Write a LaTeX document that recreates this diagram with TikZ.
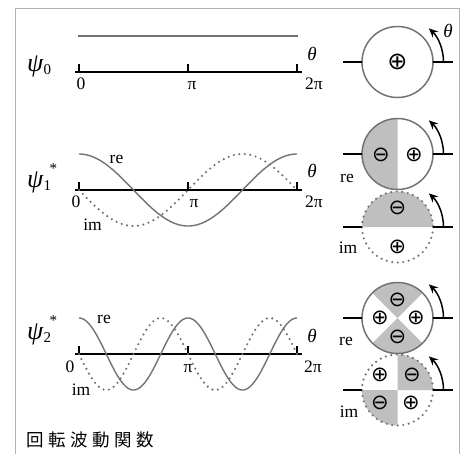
\documentclass[tikz,border=0pt]{standalone}
\usepackage{fontspec}
\setmainfont{Liberation Serif}
\newfontfamily\cjkfont{Noto Sans CJK JP}
\newfontfamily\symfont{DejaVu Sans}
\usetikzlibrary{arrows.meta}
\begin{document}
\begin{tikzpicture}[x=1pt,y=-1pt,
  frameline/.style={draw=black!30, line width=1.5pt},
  axisline/.style={line width=2pt, black},
  tickline/.style={line width=1.8pt, black},
  recurve/.style={draw=black!55, line width=1.4pt},
  imcurve/.style={draw=black!55, line width=2.4pt, line cap=round, dash pattern=on 0pt off 5.5pt},
  ring/.style={draw=black!55, line width=1.5pt},
  dotring/.style={draw=black!55, line width=2.4pt, line cap=round, dash pattern=on 0pt off 5.55pt},
  lobe/.style={fill=black!25},
  stub/.style={line width=1.8pt, black},
  rot/.style={line width=1.5pt, black, -{Stealth[length=9pt,width=8pt]}},
  lbl/.style={font=\fontsize{17.5}{17.5}\selectfont, inner sep=0pt, anchor=base},
  thl/.style={font=\fontsize{19}{19}\selectfont\itshape, inner sep=0pt, anchor=base},
  psil/.style={font=\fontsize{26}{26}\selectfont\itshape, inner sep=0pt, anchor=base west},
  subl/.style={font=\fontsize{15}{15}\selectfont, inner sep=0pt, anchor=base west},
  sym/.style={font=\symfont\fontsize{21}{21}\selectfont, inner sep=0pt},
]
\useasboundingbox (0,0) rectangle (461,453);
% frame
\draw[frameline] (15.5,454) -- (15.5,8.5) -- (459.5,8.5) -- (459.5,454);

% ---------- row 0 ----------
\draw[axisline] (75,72) -- (302,72);
\foreach \t in {79,188,297} \draw[tickline] (\t,72) -- (\t,64);
\draw[recurve] (78,36) -- (298,36);
\node[psil] (p0) at (27,71) {ψ};
\node[subl] (p0b) at ([yshift=-3pt]p0.base east) {0};
\node[lbl] (z0) at (81,89) {0};
\node[lbl] (h0) at (192,89) {π};
\node[lbl] (f0) at (314,89) {2π};
\node[thl] (t0) at (312,60) {θ};
\coordinate (c0) at (397.5,62);
\draw[ring] (c0) circle[radius=35.5];
\draw[stub] (343,62) -- (362,62);
\draw[stub] (433,62) -- (453,62);
\draw[rot] (443.5,62) arc[start angle=0, end angle=-47, radius=46];
\node[thl] (tc0) at (448,37) {θ};
\node[sym, font=\symfont\fontsize{24}{24}\selectfont] (s0) at (c0) {⊕};

% ---------- row 1 ----------
\draw[axisline] (75,190) -- (302,190);
\foreach \t in {79,188,297} \draw[tickline] (\t,190) -- (\t,182);
\draw[recurve] plot[domain=0:360, samples=120] ({79+\x/360*218}, {190-36*cos(\x)});
\draw[imcurve] plot[domain=0:360, samples=200] ({79+\x/360*218}, {190+36*sin(\x)});
\node[psil] (p1) at (27,187) {ψ};
\node[subl] (p1b) at ([yshift=-3pt]p1.base east) {1};
\node[subl] (p1c) at ([xshift=6pt,yshift=14pt]p1.base east) {*};
\node[lbl] (z1) at (76,207) {0};
\node[lbl] (h1) at (194,207) {π};
\node[lbl] (f1) at (314,207) {2π};
\node[thl] (t1) at (312,177) {θ};
\node[lbl] (r1) at (116.5,163) {re};
\node[lbl] (i1) at (92.5,230) {im};
% circle re
\coordinate (c1r) at (397.5,154);
\fill[lobe] (c1r) -- ++(90:35.5) arc[start angle=90, end angle=270, radius=35.5] -- cycle;
\draw[ring] (c1r) circle[radius=35.5];
\draw[stub] (343,154) -- (362,154);
\draw[stub] (433,154) -- (453,154);
\draw[rot] (443.5,154) arc[start angle=0, end angle=-47, radius=46];
\node[sym] (s1a) at (381,154.5) {⊖};
\node[sym] (s1b) at (414,154.5) {⊕};
\node[lbl] (cr1) at (347,182) {re};
% circle im
\coordinate (c1i) at (397.5,227);
\fill[lobe] (c1i) -- ++(180:35.5) arc[start angle=180, end angle=360, radius=35.5] -- cycle;
\draw[dotring] (c1i) circle[radius=35.5];
\draw[stub] (343,227) -- (362,227);
\draw[stub] (433,227) -- (453,227);
\draw[rot] (443.5,227) arc[start angle=0, end angle=-47, radius=46];
\node[sym] (s1c) at (397.5,208) {⊖};
\node[sym] (s1d) at (397.5,247) {⊕};
\node[lbl] (ci1) at (348,253) {im};

% ---------- row 2 ----------
\draw[axisline] (75,354) -- (302,354);
\foreach \t in {79,188,297} \draw[tickline] (\t,354) -- (\t,346);
\draw[recurve] plot[domain=0:360, samples=160] ({79+\x/360*218}, {354-36*cos(2*\x)});
\draw[imcurve] plot[domain=0:360, samples=300] ({79+\x/360*218}, {354+36*sin(2*\x)});
\node[psil] (p2) at (27,339) {ψ};
\node[subl] (p2b) at ([yshift=-3pt]p2.base east) {2};
\node[subl] (p2c) at ([xshift=6pt,yshift=14pt]p2.base east) {*};
\node[lbl] (z2) at (70,372) {0};
\node[lbl] (h2) at (188,372) {π};
\node[lbl] (f2) at (313,372) {2π};
\node[thl] (t2) at (312,342) {θ};
\node[lbl] (r2) at (104,323) {re};
\node[lbl] (i2) at (81,395) {im};
% circle re
\coordinate (c2r) at (397.5,318);
\fill[lobe] (c2r) -- ++(225:35.5) arc[start angle=225, end angle=315, radius=35.5] -- cycle;
\fill[lobe] (c2r) -- ++(45:35.5) arc[start angle=45, end angle=135, radius=35.5] -- cycle;
\draw[ring] (c2r) circle[radius=35.5];
\draw[stub] (343,318) -- (362,318);
\draw[stub] (433,318) -- (453,318);
\draw[rot] (443.5,318) arc[start angle=0, end angle=-47, radius=46];
\node[sym] (s2a) at (397.5,300) {⊖};
\node[sym] (s2b) at (380,318) {⊕};
\node[sym] (s2c) at (416,318) {⊕};
\node[sym] (s2d) at (397.5,337) {⊖};
\node[lbl] (cr2) at (346,345) {re};
% circle im
\coordinate (c2i) at (397.5,390);
\fill[lobe] (c2i) -- ++(270:35.5) arc[start angle=270, end angle=360, radius=35.5] -- cycle;
\fill[lobe] (c2i) -- ++(90:35.5) arc[start angle=90, end angle=180, radius=35.5] -- cycle;
\draw[dotring] (c2i) circle[radius=35.5];
\draw[stub] (343,390) -- (362,390);
\draw[stub] (433,390) -- (453,390);
\draw[rot] (443.5,390) arc[start angle=0, end angle=-47, radius=46];
\node[sym] (s2e) at (380,375) {⊕};
\node[sym] (s2f) at (412,375) {⊖};
\node[sym] (s2g) at (380,403) {⊖};
\node[sym] (s2h) at (411,403) {⊕};
\node[lbl] (ci2) at (349,417) {im};

% caption
\node[anchor=base west, inner sep=0pt, font=\cjkfont\fontsize{17.5}{17.5}\selectfont] (cap) at (26,446)
  {回\hspace{4.6pt}転\hspace{4.6pt}波\hspace{4.6pt}動\hspace{4.6pt}関\hspace{4.6pt}数};
\end{tikzpicture}
\end{document}
